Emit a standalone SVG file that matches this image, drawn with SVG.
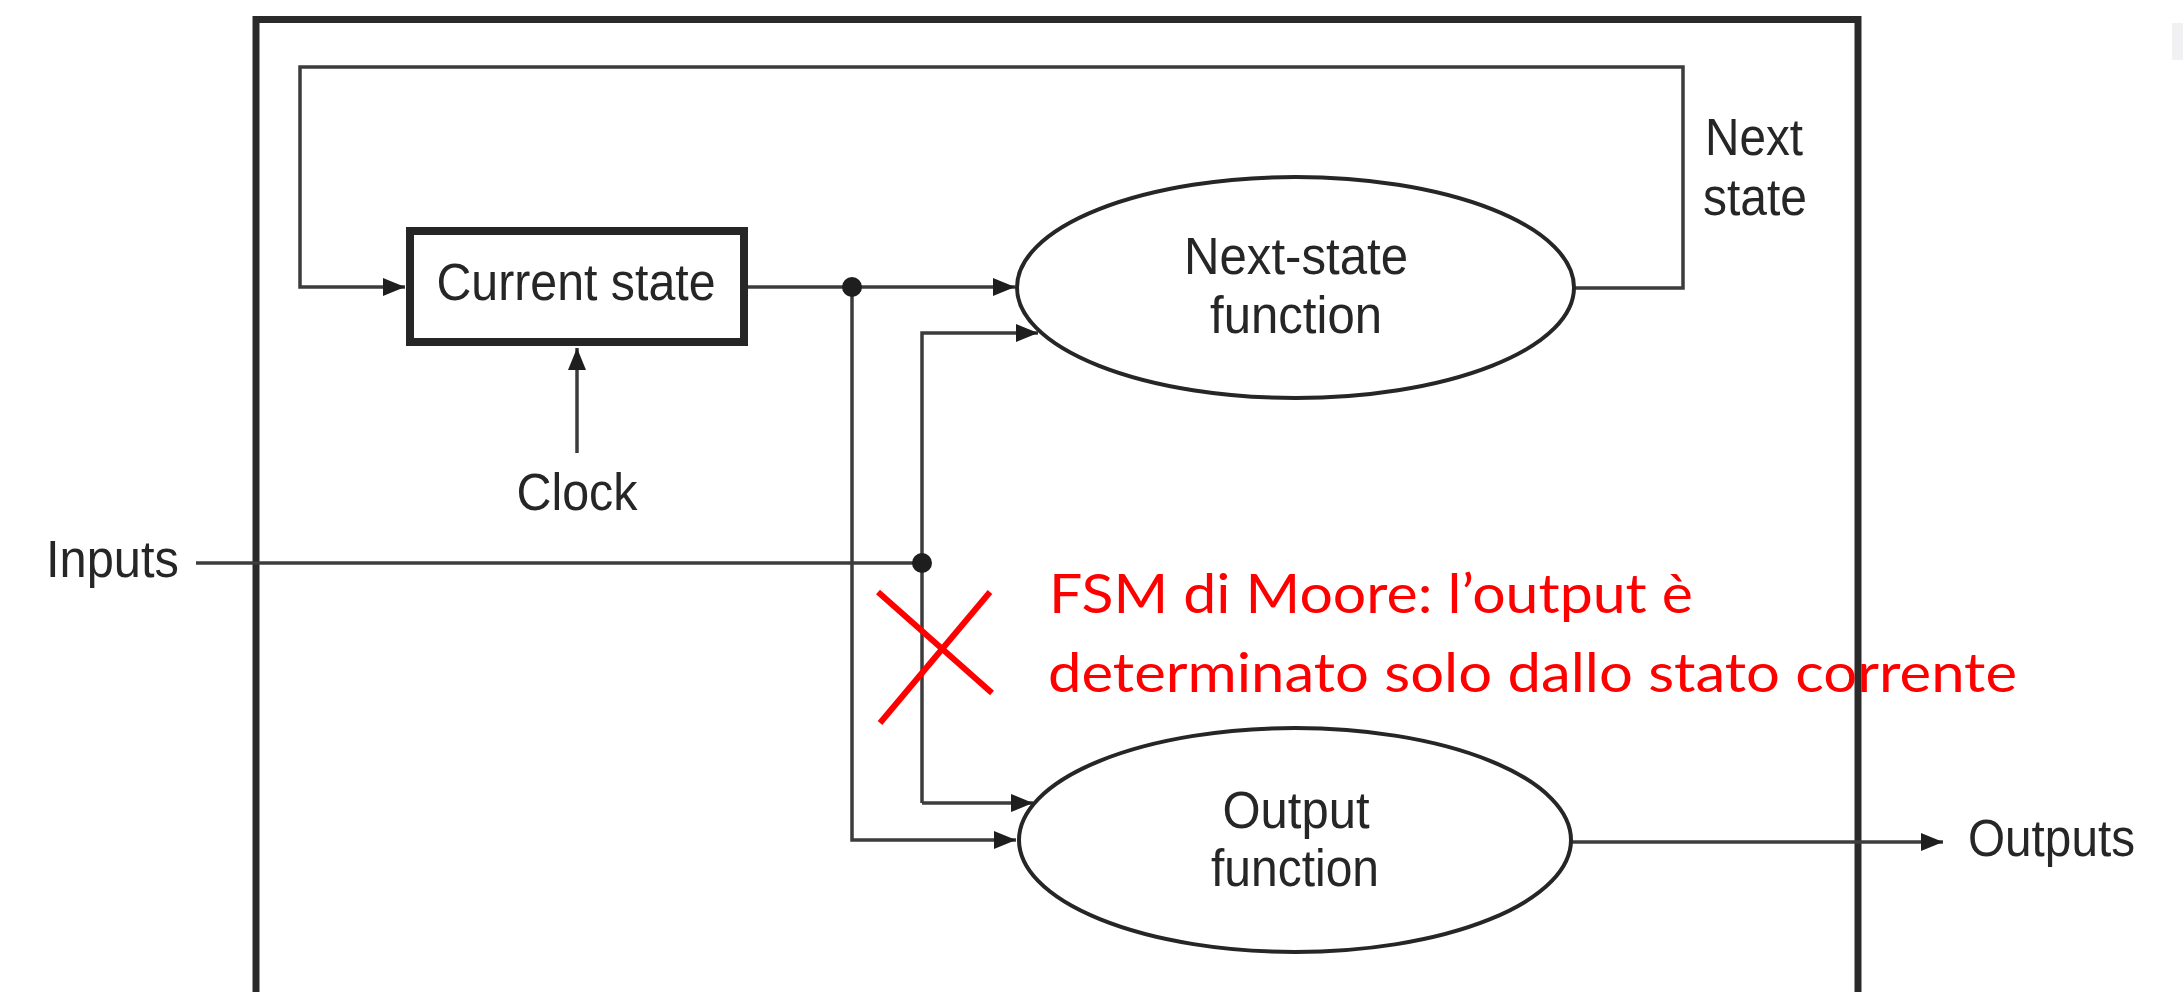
<svg xmlns="http://www.w3.org/2000/svg" width="2183" height="992" viewBox="0 0 2183 992">
  <style>
    .wire { fill: none; stroke: #3c3c3c; stroke-width: 3.5; }
    .frame { fill: none; stroke: #2a2a2a; stroke-width: 7; }
    .block { fill: #ffffff; stroke: #262626; }
    .lbl { font-family: "Liberation Sans", Arial, sans-serif; font-size: 51px; fill: #262626; }
    .mid { text-anchor: middle; }
    .note { font-family: Lato, "Liberation Sans", sans-serif; font-size: 55px; fill: #ff0000; }
    .cross { stroke: #ff0000; stroke-width: 6; fill: none; }
    .dot { fill: #1e1e1e; }
  </style>
  <defs>
    <marker id="arrow" markerUnits="userSpaceOnUse" markerWidth="22" markerHeight="18" refX="22" refY="9" orient="auto">
      <path d="M0,0 L22,9 L0,18 z" fill="#1e1e1e"/>
    </marker>
  </defs>

  <rect width="2183" height="992" fill="#ffffff"/>
  <rect x="2172" y="23" width="11" height="37" fill="#f1f1f3"/>

  <!-- enclosing machine boundary, open at the bottom -->
  <path class="frame" d="M256,992 V19.5 H1858 V992"/>

  <g id="connectors">
    <!-- next-state feedback loop -->
    <path class="wire" d="M1574,288 H1683 V67 H300 V287 H405" marker-end="url(#arrow)"/>
    <!-- current state to next-state function -->
    <path class="wire" d="M748,287 H1015" marker-end="url(#arrow)"/>
    <!-- current state to output function -->
    <path class="wire" d="M852,287 V840 H1016" marker-end="url(#arrow)"/>
    <!-- inputs -->
    <path class="wire" d="M196,563 H922"/>
    <path class="wire" d="M922,803 V333 H1038" marker-end="url(#arrow)"/>
    <path class="wire" d="M922,803 H1033" marker-end="url(#arrow)"/>
    <!-- clock -->
    <path class="wire" d="M577,453 V348" marker-end="url(#arrow)"/>
    <!-- outputs -->
    <path class="wire" d="M1571,842 H1943" marker-end="url(#arrow)"/>
    <circle class="dot" cx="852" cy="287" r="10"/>
    <circle class="dot" cx="922" cy="563" r="10"/>
  </g>

  <g id="current-state">
    <rect class="block" x="410" y="231" width="334" height="111" stroke-width="8"/>
    <text class="lbl mid" x="576" y="300" textLength="279" lengthAdjust="spacingAndGlyphs">Current state</text>
  </g>

  <g id="next-state-function">
    <ellipse class="block" cx="1295.5" cy="287.5" rx="278.5" ry="110.5" stroke-width="4"/>
    <text class="lbl mid" x="1296" y="274" textLength="224" lengthAdjust="spacingAndGlyphs">Next-state</text>
    <text class="lbl mid" x="1296" y="333" textLength="172" lengthAdjust="spacingAndGlyphs">function</text>
  </g>

  <g id="output-function">
    <ellipse class="block" cx="1295" cy="840" rx="276" ry="112" stroke-width="4"/>
    <text class="lbl mid" x="1296" y="828" textLength="147" lengthAdjust="spacingAndGlyphs">Output</text>
    <text class="lbl mid" x="1295" y="886" textLength="168" lengthAdjust="spacingAndGlyphs">function</text>
  </g>

  <g id="labels">
    <text class="lbl" x="1705" y="155" textLength="98" lengthAdjust="spacingAndGlyphs">Next</text>
    <text class="lbl" x="1703" y="215" textLength="104" lengthAdjust="spacingAndGlyphs">state</text>
    <text class="lbl mid" x="577" y="510" textLength="121" lengthAdjust="spacingAndGlyphs">Clock</text>
    <text class="lbl" x="46" y="577" textLength="133" lengthAdjust="spacingAndGlyphs">Inputs</text>
    <text class="lbl" x="1968" y="856" textLength="167" lengthAdjust="spacingAndGlyphs">Outputs</text>
  </g>

  <g id="moore-note">
    <line class="cross" x1="878" y1="592" x2="992" y2="693"/>
    <line class="cross" x1="990" y1="592" x2="880" y2="723"/>
    <text class="note" x="1049" y="613" textLength="644" lengthAdjust="spacingAndGlyphs">FSM di Moore: l’output è</text>
    <text class="note" x="1048" y="692" textLength="969" lengthAdjust="spacingAndGlyphs">determinato solo dallo stato corrente</text>
  </g>
</svg>
